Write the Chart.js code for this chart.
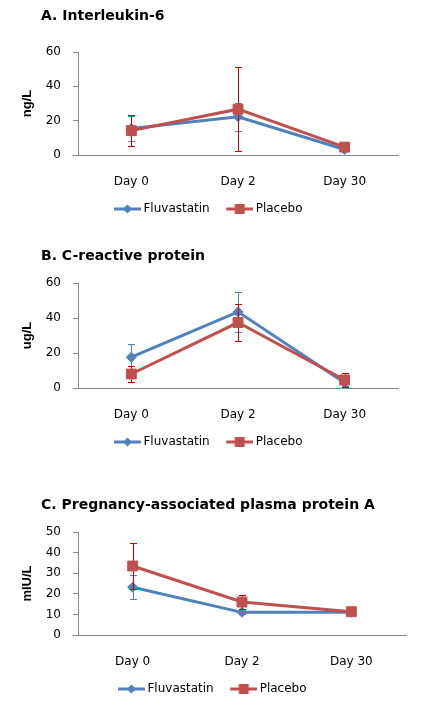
<!DOCTYPE html>
<html>
<head>
<meta charset="utf-8">
<script src="https://cdn.jsdelivr.net/npm/chart.js@4"></script>
<style>
body { margin: 0; background: #fff; }
#page { position: relative; width: 439px; height: 720px; }
canvas { position: absolute; left: 0; }
.title { position: absolute; left: 41px; font: bold 14px "DejaVu Sans"; line-height: 14px; color: #000; white-space: nowrap; }
</style>
</head>
<body>
<div id="page">
  <canvas id="chartA" width="439" height="230" style="top:0px"></canvas>
  <canvas id="chartB" width="439" height="230" style="top:230px"></canvas>
  <canvas id="chartC" width="439" height="260" style="top:460px"></canvas>
  <div class="title" style="top:8px">A. Interleukin-6</div>
  <div class="title" style="top:248px">B. C-reactive protein</div>
  <div class="title" style="top:497px">C. Pregnancy-associated plasma protein A</div>
</div>
<script>
const days = ['Day 0', 'Day 2', 'Day 30'];
const seriesNames = ['Fluvastatin', 'Placebo'];

// A. Interleukin-6, ng/L
const il6Fluva = [15.5, 22.3, 3.2];
const il6FluvaErr = [7.5, 8.2, 1];
const il6Placebo = [14.2, 26.7, 4.6];
const il6PlaceboErr = [9, 24.3, 1.2];

// B. C-reactive protein, ug/L
const crpFluva = [17.6, 43.5, 3];
const crpFluvaErr = [7.4, 11.4, 2];
const crpPlacebo = [8, 37.4, 4.6];
const crpPlaceboErr = [4.5, 10.6, 4.2];

// C. Pregnancy-associated plasma protein A, mIU/L
const pappFluva = [23.2, 11, 11];
const pappFluvaErr = [5.8, 0.8, 0.5];
const pappPlacebo = [33.5, 16, 11.3];
const pappPlaceboErr = [11, 3.6, 0.6];

const blue = '#4F81BD';
const red = '#C0504D';
const axisGrey = '#868686';

// little line+marker pictures for the legend
function legendIcon(color, shape) {
    const c = document.createElement('canvas');
    c.width = 33; c.height = 12;
    const g = c.getContext('2d');
    g.strokeStyle = color;
    g.lineWidth = 3;
    g.beginPath(); g.moveTo(6, 6); g.lineTo(33, 6); g.stroke();
    g.fillStyle = color;
    if (shape === 'diamond') {
        g.beginPath();
        g.moveTo(19.5, 1.5); g.lineTo(24, 6); g.lineTo(19.5, 10.5); g.lineTo(15, 6);
        g.closePath(); g.fill();
    } else {
        g.fillRect(14.5, 1, 10, 10);
    }
    return c;
}
const legendIcons = [legendIcon(blue, 'diamond'), legendIcon(red, 'square')];

// vertical error bars, drawn under each series' own line
const errorBars = {
    id: 'errorBars',
    beforeDatasetDraw(chart, args) {
        const ds = chart.data.datasets[args.index];
        if (!ds.errors) return;
        const ctx = chart.ctx;
        const x = chart.scales.x, y = chart.scales.y;
        ctx.save();
        ctx.strokeStyle = ds.errorColor;
        ctx.lineWidth = 1;
        ds.data.forEach((v, i) => {
            const px = Math.round(x.getPixelForValue(i)) + 0.5;
            const top = Math.round(y.getPixelForValue(v + ds.errors[i])) + 0.5;
            const bot = Math.round(y.getPixelForValue(v - ds.errors[i])) + 0.5;
            ctx.beginPath();
            ctx.moveTo(px, top); ctx.lineTo(px, bot);
            ctx.moveTo(px - 3.5, top); ctx.lineTo(px + 3.5, top);
            ctx.moveTo(px - 3.5, bot); ctx.lineTo(px + 3.5, bot);
            ctx.stroke();
        });
        ctx.restore();
    }
};

function makeChart(id, unit, fluva, fluvaErr, placebo, placeboErr, yMax, step, pad) {
    return new Chart(document.getElementById(id), {
        type: 'line',
        data: {
            labels: days,
            datasets: [{
                label: seriesNames[0],
                data: fluva,
                errors: fluvaErr,
                errorColor: blue,
                borderColor: blue,
                backgroundColor: blue,
                borderWidth: 3,
                pointStyle: 'rectRot',
                pointRadius: 5,
                pointBorderWidth: 1,
                tension: 0,
                order: 2
            }, {
                label: seriesNames[1],
                data: placebo,
                errors: placeboErr,
                errorColor: '#CC0000',
                borderColor: red,
                backgroundColor: red,
                borderWidth: 3,
                pointStyle: 'rect',
                pointRadius: 7,
                pointBorderWidth: 1,
                tension: 0,
                order: 1
            }]
        },
        options: {
            responsive: false,
            animation: false,
            layout: { padding: pad },
            plugins: {
                tooltip: { enabled: false },
                legend: {
                    position: 'bottom',
                    labels: {
                        usePointStyle: true,
                        pointStyleWidth: 26,
                        padding: 14,
                        color: '#000',
                        font: { family: 'DejaVu Sans', size: 12 },
                        generateLabels: chart => chart.data.datasets.map((ds, i) => ({
                            text: ds.label,
                            pointStyle: legendIcons[i],
                            datasetIndex: i,
                            fontColor: '#000',
                            hidden: false,
                            lineWidth: 0,
                            strokeStyle: 'transparent',
                            fillStyle: 'transparent'
                        }))
                    }
                }
            },
            scales: {
                x: {
                    offset: true,
                    afterFit: s => { s.height = 34; },
                    grid: { display: false, drawTicks: false },
                    border: { color: axisGrey, width: 1 },
                    ticks: { color: '#000', padding: 20, font: { family: 'DejaVu Sans', size: 12 } }
                },
                y: {
                    min: 0,
                    max: yMax,
                    afterFit: s => { s.width = 62; },
                    grid: { drawOnChartArea: false, tickLength: 5, color: axisGrey },
                    border: { color: axisGrey, width: 1 },
                    ticks: { stepSize: step, autoSkip: false, color: '#000', padding: 12, font: { family: 'DejaVu Sans', size: 12 } },
                    title: {
                        display: true,
                        text: unit,
                        color: '#000',
                        font: { family: 'Liberation Sans', size: 13, weight: 'bold' }
                    }
                }
            }
        },
        plugins: [errorBars]
    });
}

makeChart('chartA', 'ng/L', il6Fluva, il6FluvaErr, il6Placebo, il6PlaceboErr, 60, 20,
    { left: 16, right: 41, top: 52, bottom: 5 });
makeChart('chartB', 'ug/L', crpFluva, crpFluvaErr, crpPlacebo, crpPlaceboErr, 60, 20,
    { left: 16, right: 41, top: 53, bottom: 2 });
makeChart('chartC', 'mIU/L', pappFluva, pappFluvaErr, pappPlacebo, pappPlaceboErr, 50, 10,
    { left: 16, right: 33, top: 72, bottom: 15 });
</script>
</body>
</html>
